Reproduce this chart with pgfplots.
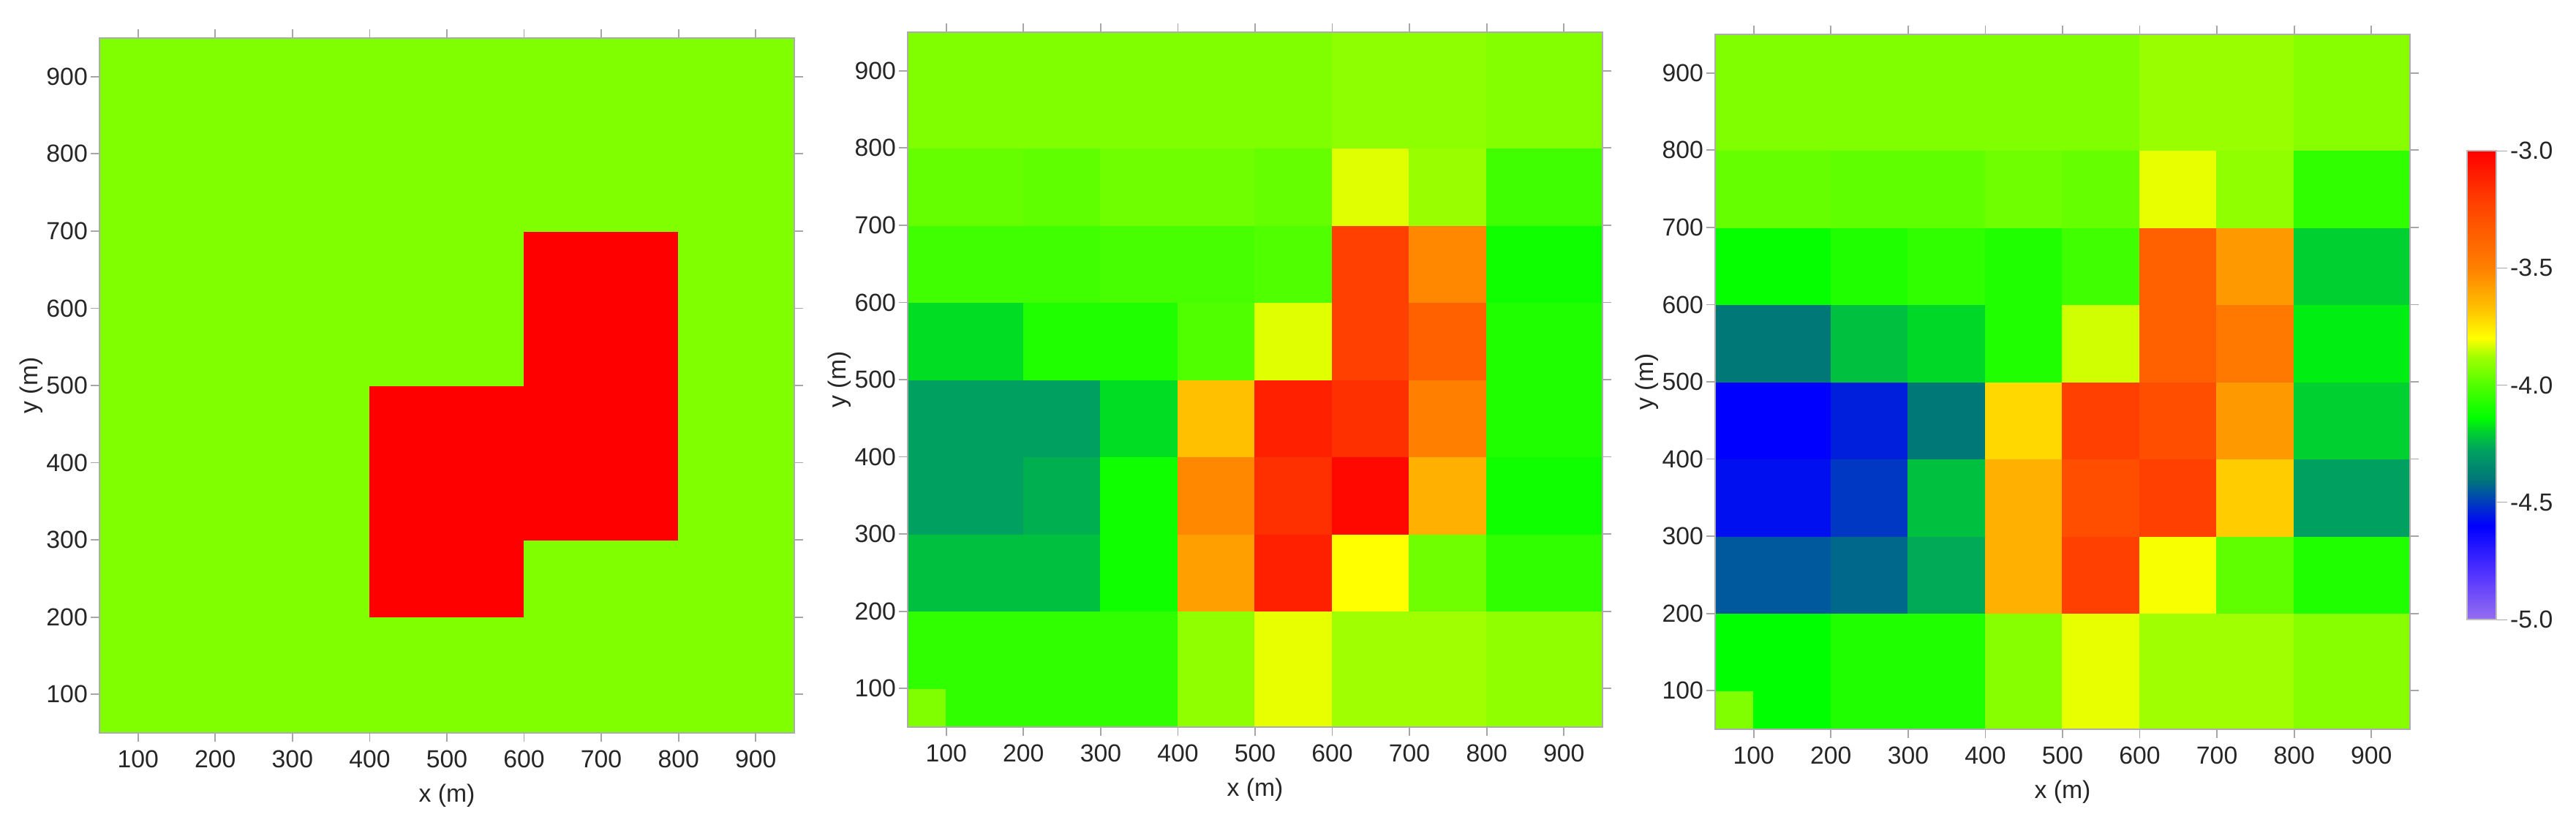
\documentclass[border=0pt]{standalone}
\usepackage{fontspec}
\setmainfont{Liberation Sans}
\usepackage{pgfplots}
\pgfplotsset{compat=1.18}

\pgfplotsset{
  colormap={sim}{
    rgb255(0cm)=(150,110,240); rgb255(20cm)=(80,50,255); rgb255(40cm)=(0,0,255);
    rgb255(50cm)=(0,60,190); rgb255(60cm)=(0,120,120); rgb255(72cm)=(0,160,96);
    rgb255(80cm)=(0,208,48); rgb255(86cm)=(0,255,0); rgb255(100cm)=(80,255,0);
    rgb255(107cm)=(128,255,0); rgb255(112cm)=(160,255,0); rgb255(120cm)=(255,255,0);
    rgb255(133cm)=(255,192,0); rgb255(150cm)=(255,128,0); rgb255(178cm)=(255,64,0);
    rgb255(200cm)=(255,0,0)},
  panel/.style={
    scale only axis, width=9.5cm, height=9.5cm,
    xmin=50, xmax=950, ymin=50, ymax=950,
    xtick={100,200,...,900}, ytick={100,200,...,900},
    tick align=outside, major tick length=0.12cm,
    major tick style={gray!70, line width=0.5pt},
    axis line style={gray!65, line width=0.6pt},
    axis on top,
    colormap name=sim, point meta min=-5, point meta max=-3,
    /pgf/number format/assume math mode=true,
    tick label style={font=\fontsize{9.6}{11}\selectfont, black!85},
    yticklabel style={inner sep=1pt},
    label style={font=\fontsize{9.6}{11}\selectfont, black!85},
    xlabel={x (m)}, ylabel={y (m)},
    xlabel style={at={(axis description cs:0.5,0)}, anchor=center, yshift=-0.86cm},
    ylabel style={at={(axis description cs:0,0.5)}, anchor=center, yshift=0.93cm},
  },
}

\begin{document}
\begin{tikzpicture}
\path[use as bounding box] (0,0) rectangle (35.22,11.31);

% true model
\begin{axis}[panel, at={(1.36cm,1.29cm)}, anchor=south west]
\addplot[surf, shader=flat corner, mesh/cols=5, point meta=explicit] coordinates {
(50,50) [-3.93] (400,50) [-3.93] (600,50) [-3.93] (800,50) [-3.93] (950,50) [-3.93]
(50,200) [-3.93] (400,200) [-3.0] (600,200) [-3.93] (800,200) [-3.93] (950,200) [-3.93]
(50,300) [-3.93] (400,300) [-3.0] (600,300) [-3.0] (800,300) [-3.93] (950,300) [-3.93]
(50,500) [-3.93] (400,500) [-3.93] (600,500) [-3.0] (800,500) [-3.93] (950,500) [-3.93]
(50,700) [-3.93] (400,700) [-3.93] (600,700) [-3.93] (800,700) [-3.93] (950,700) [-3.93]
(50,950) [-3.93] (400,950) [-3.93] (600,950) [-3.93] (800,950) [-3.93] (950,950) [-3.93]
};
\end{axis}

% inversion 1
\begin{axis}[panel, at={(12.41cm,1.37cm)}, anchor=south west]
\addplot[surf, shader=flat corner, mesh/cols=10, point meta=explicit] coordinates {
(50,50) [-3.93] (100,50) [-4.056] (200,50) [-4.056] (300,50) [-4.056] (400,50) [-3.905] (500,50) [-3.819] (600,50) [-3.88] (700,50) [-3.88] (800,50) [-3.905] (950,50) [-3.905]
(50,100) [-4.056] (100,100) [-4.056] (200,100) [-4.056] (300,100) [-4.056] (400,100) [-3.905] (500,100) [-3.819] (600,100) [-3.88] (700,100) [-3.88] (800,100) [-3.905] (950,100) [-3.905]
(50,200) [-4.227] (100,200) [-4.227] (200,200) [-4.227] (300,200) [-4.112] (400,200) [-3.585] (500,200) [-3.11] (600,200) [-3.8] (700,200) [-3.953] (800,200) [-4.056] (950,200) [-4.056]
(50,300) [-4.28] (100,300) [-4.28] (200,300) [-4.253] (300,300) [-4.112] (400,300) [-3.521] (500,300) [-3.165] (600,300) [-3.028] (700,300) [-3.628] (800,300) [-4.112] (950,300) [-4.112]
(50,400) [-4.28] (100,400) [-4.28] (200,400) [-4.28] (300,400) [-4.183] (400,400) [-3.67] (500,400) [-3.11] (600,400) [-3.165] (700,400) [-3.5] (800,400) [-4.084] (950,400) [-4.084]
(50,500) [-4.183] (100,500) [-4.183] (200,500) [-4.084] (300,500) [-4.084] (400,500) [-4.0] (500,500) [-3.826] (600,500) [-3.22] (700,500) [-3.36] (800,500) [-4.084] (950,500) [-4.084]
(50,600) [-4.028] (100,600) [-4.028] (200,600) [-4.028] (300,600) [-4.014] (400,600) [-4.014] (500,600) [-4.0] (600,600) [-3.22] (700,600) [-3.521] (800,600) [-4.112] (950,600) [-4.112]
(50,700) [-3.968] (100,700) [-3.968] (200,700) [-3.977] (300,700) [-3.953] (400,700) [-3.953] (500,700) [-3.968] (600,700) [-3.826] (700,700) [-3.891] (800,700) [-4.028] (950,700) [-4.028]
(50,800) [-3.93] (100,800) [-3.93] (200,800) [-3.93] (300,800) [-3.93] (400,800) [-3.93] (500,800) [-3.93] (600,800) [-3.91] (700,800) [-3.91] (800,800) [-3.925] (950,800) [-3.925]
(50,950) [-3.93] (100,950) [-3.93] (200,950) [-3.93] (300,950) [-3.93] (400,950) [-3.93] (500,950) [-3.93] (600,950) [-3.91] (700,950) [-3.91] (800,950) [-3.925] (950,950) [-3.925]
};
\end{axis}

% inversion 2
\begin{axis}[panel, at={(23.45cm,1.34cm)}, anchor=south west,
  colorbar,
  colorbar style={
    at={(parent axis.north east)}, anchor=north west,
    xshift=0.48cm, yshift=-1.59cm,
    scale only axis, width=0.4cm, height=6.41cm,
    ytick={-5,-4.5,-4,-3.5,-3}, ytick pos=right, yticklabel pos=right,
    tick align=outside, major tick length=0.15cm,
    major tick style={gray!70},
    axis line style={gray!50},
    yticklabel style={/pgf/number format/.cd, fixed, fixed zerofill, precision=1,
      assume math mode=true},
    tick label style={font=\fontsize{9.6}{11}\selectfont, black!85, inner sep=1pt},
  }]
\addplot[surf, shader=flat corner, mesh/cols=10, point meta=explicit] coordinates {
(50,50) [-3.93] (100,50) [-4.14] (200,50) [-4.084] (300,50) [-4.084] (400,50) [-3.917] (500,50) [-3.819] (600,50) [-3.88] (700,50) [-3.88] (800,50) [-3.917] (950,50) [-3.917]
(50,100) [-4.14] (100,100) [-4.14] (200,100) [-4.084] (300,100) [-4.084] (400,100) [-3.917] (500,100) [-3.819] (600,100) [-3.88] (700,100) [-3.88] (800,100) [-3.917] (950,100) [-3.917]
(50,200) [-4.453] (100,200) [-4.453] (200,200) [-4.427] (300,200) [-4.263] (400,200) [-3.628] (500,200) [-3.22] (600,200) [-3.806] (700,200) [-3.977] (800,200) [-4.084] (950,200) [-4.084]
(50,300) [-4.575] (100,300) [-4.575] (200,300) [-4.507] (300,300) [-4.227] (400,300) [-3.628] (500,300) [-3.28] (600,300) [-3.22] (700,300) [-3.695] (800,300) [-4.28] (950,300) [-4.28]
(50,400) [-4.6] (100,400) [-4.6] (200,400) [-4.548] (300,400) [-4.4] (400,400) [-3.72] (500,400) [-3.22] (600,400) [-3.28] (700,400) [-3.566] (800,400) [-4.2] (950,400) [-4.2]
(50,500) [-4.4] (100,500) [-4.4] (200,500) [-4.227] (300,500) [-4.19] (400,500) [-4.084] (500,500) [-3.84] (600,500) [-3.36] (700,500) [-3.465] (800,500) [-4.162] (950,500) [-4.162]
(50,600) [-4.13] (100,600) [-4.13] (200,600) [-4.084] (300,600) [-4.056] (400,600) [-4.084] (500,600) [-4.028] (600,600) [-3.36] (700,600) [-3.566] (800,600) [-4.2] (950,600) [-4.2]
(50,700) [-3.968] (100,700) [-3.968] (200,700) [-3.977] (300,700) [-3.977] (400,700) [-3.953] (500,700) [-3.968] (600,700) [-3.819] (700,700) [-3.905] (800,700) [-4.056] (950,700) [-4.056]
(50,800) [-3.93] (100,800) [-3.93] (200,800) [-3.93] (300,800) [-3.93] (400,800) [-3.93] (500,800) [-3.93] (600,800) [-3.891] (700,800) [-3.891] (800,800) [-3.917] (950,800) [-3.917]
(50,950) [-3.93] (100,950) [-3.93] (200,950) [-3.93] (300,950) [-3.93] (400,950) [-3.93] (500,950) [-3.93] (600,950) [-3.891] (700,950) [-3.891] (800,950) [-3.917] (950,950) [-3.917]
};
\end{axis}
\end{tikzpicture}
\end{document}
